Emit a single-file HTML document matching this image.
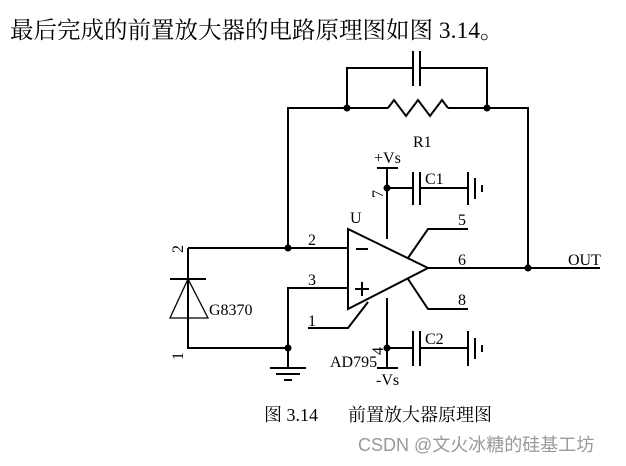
<!DOCTYPE html>
<html><head><meta charset="utf-8"><style>
body{margin:0;background:#fff;width:626px;height:466px;overflow:hidden}
svg{position:absolute;left:0;top:0}
</style></head><body>
<svg width="626" height="466" viewBox="0 0 626 466" xmlns="http://www.w3.org/2000/svg">
<text x="10" y="38" font-family="Liberation Serif, Noto Serif CJK SC, serif" font-size="23.5" fill="#000">最后完成的前置放大器的电路原理图如图 3.14。</text>
<g stroke="#000" stroke-width="2" fill="none">
<polyline points="288,248 288,108 388,108"/>
<polyline points="448,108 528,108 528,268"/>
<polyline points="388,108 394,100 406,116 418,100 430,116 442,100 448,108"/>
<polyline points="347,108 347,68 413,68"/>
<polyline points="420,68 487,68 487,108"/>
<line x1="413" y1="51" x2="413" y2="86"/>
<line x1="420" y1="51" x2="420" y2="86"/>
<polygon points="348,229 348,309 428,268"/>
<line x1="188" y1="248" x2="348" y2="248"/>
<polyline points="348,288 288,288 288,368"/>
<polyline points="188,248 188,348 288,348"/>
<line x1="270" y1="368" x2="306" y2="368"/>
<line x1="276" y1="374" x2="300" y2="374"/>
<line x1="284" y1="380" x2="292" y2="380"/>
<line x1="170" y1="279" x2="206" y2="279"/>
<polygon points="188,279 170,318 208,318" stroke-width="1.3"/>
<polyline points="308,328 348,328 368,302"/>
<line x1="387" y1="168" x2="387" y2="239"/>
<line x1="377" y1="168" x2="398" y2="168"/>
<line x1="387" y1="188" x2="413" y2="188"/>
<line x1="413" y1="172" x2="413" y2="205"/>
<line x1="420" y1="172" x2="420" y2="205"/>
<line x1="420" y1="188" x2="468" y2="188"/>
<line x1="468" y1="172" x2="468" y2="205"/>
<line x1="475" y1="178" x2="475" y2="199"/>
<line x1="482" y1="185" x2="482" y2="192"/>
<line x1="387" y1="298" x2="387" y2="368"/>
<line x1="377" y1="368" x2="398" y2="368"/>
<line x1="387" y1="348" x2="413" y2="348"/>
<line x1="413" y1="331" x2="413" y2="366"/>
<line x1="420" y1="331" x2="420" y2="366"/>
<line x1="420" y1="348" x2="468" y2="348"/>
<line x1="468" y1="331" x2="468" y2="366"/>
<line x1="475" y1="338" x2="475" y2="359"/>
<line x1="482" y1="345" x2="482" y2="352"/>
<polyline points="408,258 428,229 468,229"/>
<polyline points="408,279 428,309 468,309"/>
<line x1="428" y1="268" x2="600" y2="268"/>
<line x1="356" y1="249" x2="368" y2="249"/>
<line x1="355" y1="289" x2="369" y2="289"/>
<line x1="362" y1="282" x2="362" y2="296"/>
</g>
<g fill="#000">
<circle cx="347" cy="108" r="3.5"/><circle cx="487" cy="108" r="3.5"/>
<circle cx="288" cy="248" r="3.5"/><circle cx="288" cy="348" r="3.5"/>
<circle cx="387" cy="188" r="3.5"/><circle cx="387" cy="348" r="3.5"/>
<circle cx="528" cy="268" r="3.5"/>
</g>
<g font-family="Liberation Serif, serif" font-size="16" fill="#000">
<text x="413" y="147">R1</text>
<text x="374" y="163">+Vs</text>
<text x="425" y="184">C1</text>
<text x="350" y="223">U</text>
<text x="458" y="225">5</text>
<text x="308" y="245">2</text>
<text x="458" y="265">6</text>
<text x="308" y="285">3</text>
<text x="458" y="305">8</text>
<text x="308" y="326">1</text>
<text x="209" y="315">G8370</text>
<text x="425" y="344">C2</text>
<text x="330" y="367">AD795</text>
<text x="376" y="385">-Vs</text>
<text x="568" y="265">OUT</text>
<text transform="translate(383,198) rotate(-90)">7</text>
<text transform="translate(383,355) rotate(-90)">4</text>
<text transform="translate(183,253) rotate(-90)">2</text>
<text transform="translate(183,360) rotate(-90)">1</text>
</g>
<text x="264" y="421" font-family="Liberation Serif, Noto Serif CJK SC, serif" font-size="18" fill="#000">图 3.14<tspan x="348">前置放大器原理图</tspan></text>
<text x="358" y="451" font-family="Liberation Sans, Noto Sans CJK SC, sans-serif" font-size="18" fill="#999">CSDN @文火冰糖的硅基工坊</text>
</svg>
</body></html>
